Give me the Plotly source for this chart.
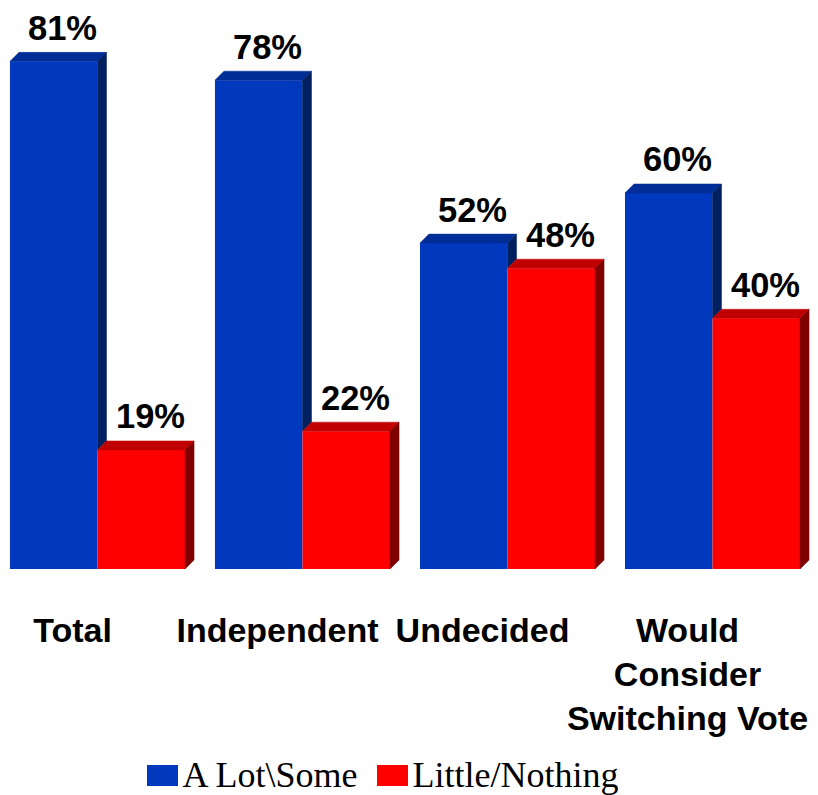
import plotly.graph_objects as go

categories = ["Total", "Independent", "Undecided", "Would<br>Consider<br>Switching Vote"]
a_lot_some = [81, 78, 52, 60]
little_nothing = [19, 22, 48, 40]
series_names = ["A Lot\\Some", "Little/Nothing"]

# style (page body has an 8px margin, so the figure is drawn 8px in from the window corner)
OFF = 8
W, H = 818 - OFF, 795 - OFF
BASE_Y = 569 - OFF            # pixel row of the bar baseline in figure coords
M_L, M_R, M_T, M_B = 0, 0, 0, H - BASE_Y
BARGAP = 0.146
GROUP_PX = 205
G0 = 97.5 - OFF               # pixel x of first group centre
PX_PER_PCT = 6.267
X_RANGE = [-G0 / GROUP_PX, (W - G0) / GROUP_PX]
Y_RANGE = [0, BASE_Y / PX_PER_PCT]
DX = 9 / GROUP_PX
DY = 9 / PX_PER_PCT
bw = (1 - BARGAP) / 2

FRONT = ["#0039BD", "#FF0000"]
TOP = ["#002D96", "#C00000"]
SIDE = ["#002060", "#800000"]

plot_h = BASE_Y
def py(page_y):
    return (BASE_Y - (page_y - OFF)) / plot_h
def px(page_x):
    return (page_x - OFF) / W

xs = list(range(len(categories)))
fig = go.Figure()
series = [a_lot_some, little_nothing]
legend_ids = ["legend", "legend2"]
for k, vals in enumerate(series):
    fig.add_trace(go.Bar(x=xs, y=vals, name=series_names[k], legend=legend_ids[k],
                         marker=dict(color=FRONT[k], line=dict(width=0)), hoverinfo="skip"))

def poly(pts, color):
    xx = [p[0] for p in pts] + [pts[0][0]]
    yy = [p[1] for p in pts] + [pts[0][1]]
    fig.add_trace(go.Scatter(x=xx, y=yy, mode="lines", fill="toself", fillcolor=color,
                             line=dict(color=color, width=0.5), showlegend=False, hoverinfo="skip"))

for i in xs:
    for k, vals in enumerate(series):
        v = vals[i]
        xl = i - bw + k * bw
        xr = xl + bw
        poly([(xl, v), (xl + DX, v + DY), (xr + DX, v + DY), (xr, v)], TOP[k])
        if k == 0:
            rv = series[1][i]
            if v > rv:
                poly([(xr, rv), (xr, v), (xr + DX, v + DY), (xr + DX, rv + DY)], SIDE[k])
        else:
            poly([(xr, 0), (xr, v), (xr + DX, v + DY), (xr + DX, DY)], SIDE[k])
        fig.add_annotation(x=(xl + xr) / 2 + DX, y=v, text=f"{v}%", showarrow=False,
                           yanchor="middle", yshift=33.5,
                           font=dict(family="Liberation Sans, Arial", size=34.5, color="#000000", weight="bold"))

# larger legend swatches drawn beneath the (transparent) legend icons
SWATCH_X = [(147, 178), (377, 408)]
for k, (x0, x1) in enumerate(SWATCH_X):
    fig.add_shape(type="rect", xref="paper", yref="paper", x0=px(x0), x1=px(x1),
                  y0=py(786), y1=py(765), fillcolor=FRONT[k], line=dict(width=0), layer="above")

legend_font = dict(family="Liberation Serif, Times New Roman", size=36, color="#000000")
def leg(cx):
    return dict(orientation="h", x=px(cx) - 20 / W, xanchor="left", y=py(803), yanchor="bottom",
                bgcolor="rgba(0,0,0,0)", font=legend_font)

fig.update_layout(
    width=W, height=H,
    margin=dict(l=M_L, r=M_R, t=M_T, b=M_B, autoexpand=False),
    plot_bgcolor="white", paper_bgcolor="white",
    barmode="group", bargap=BARGAP, bargroupgap=0,
    showlegend=True,
    legend=leg((SWATCH_X[0][0] + SWATCH_X[0][1]) / 2),
    legend2=leg((SWATCH_X[1][0] + SWATCH_X[1][1]) / 2),
    xaxis=dict(range=X_RANGE, tickmode="array", tickvals=xs, ticktext=[f"<b>{c}</b>" for c in categories],
               showgrid=False, zeroline=False, showline=False, ticks="", ticklabelshift=-25,
               ticklabelstandoff=38, tickangle=0, automargin=False,
               tickfont=dict(family="Liberation Sans, Arial", size=34, color="#000000")),
    yaxis=dict(range=Y_RANGE, visible=False, showgrid=False, zeroline=False, automargin=False),
)
fig.write_html("out.html")
